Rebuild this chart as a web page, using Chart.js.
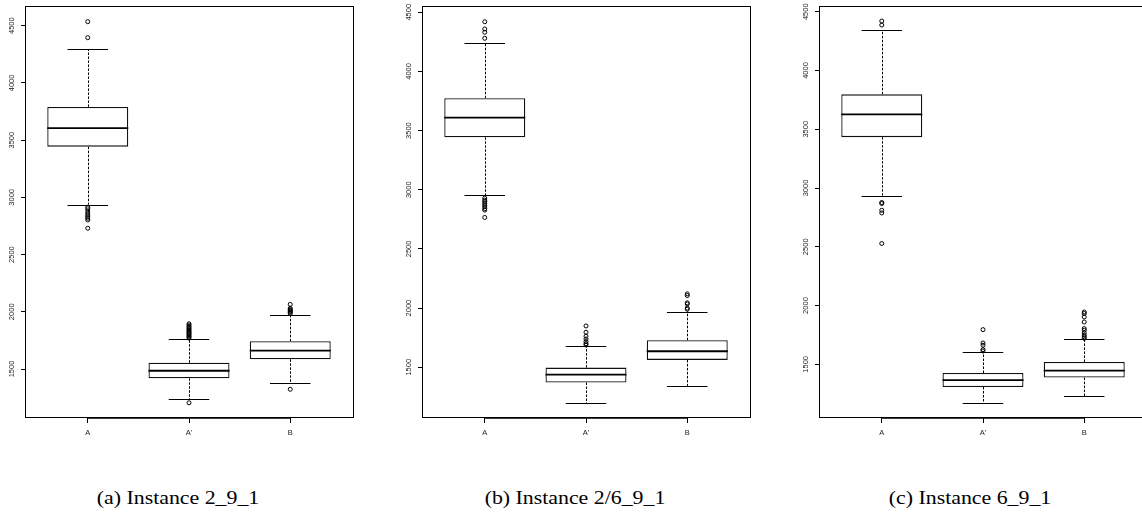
<!DOCTYPE html>
<html><head><meta charset="utf-8">
<script src="https://cdn.jsdelivr.net/npm/chart.js@4.4.0/dist/chart.umd.min.js"></script>
<style>
html,body{margin:0;padding:0;background:#fff;overflow:hidden;width:1142px;height:514px;}
#wrap{position:relative;width:1142px;height:514px;overflow:hidden;background:#fff;}
#wrap canvas{position:absolute;top:0;}
.cap{position:absolute;top:488px;font-family:"Liberation Serif","Times New Roman",serif;font-size:19.5px;line-height:20px;color:#000;white-space:nowrap;transform:translateX(-50%) scaleX(1.12);transform-origin:50% 50%;}
</style></head><body>
<div id="wrap">
<canvas id="c0" width="365" height="450" style="left:0px"></canvas>
<canvas id="c1" width="365" height="450" style="left:397px"></canvas>
<canvas id="c2" width="365" height="450" style="left:794px"></canvas>
<div class="cap" id="t0" style="left:178px"></div>
<div class="cap" id="t1" style="left:575px"></div>
<div class="cap" id="t2" style="left:970px"></div>
</div>
<script>
// ---------- data ----------
const categories = ["A", "A'", "B"];
const captions = ["(a) Instance 2_9_1", "(b) Instance 2/6_9_1", "(c) Instance 6_9_1"];
const yTicks = [1500, 2000, 2500, 3000, 3500, 4000, 4500];
const yMin = [1072, 1071, 1043];
const yMax = [4672, 4553, 4549];

// panel (a) Instance 2_9_1
const aLow  = [2936, 1238, 1375];
const aQ1   = [3443, 1419, 1585];
const aMed  = [3605, 1485, 1660];
const aQ3   = [3790, 1555, 1742];
const aHigh = [4296, 1760, 1972];
const aOut  = [
  [4535, 4395, 2913, 2900, 2880, 2861, 2845, 2830, 2817, 2802, 2730],
  [1205, 1770, 1780, 1790, 1800, 1810, 1820, 1830, 1840, 1850, 1860, 1872, 1885, 1895],
  [1323, 1985, 1995, 2003, 2012, 2020, 2030, 2065]
];

// panel (b) Instance 2/6_9_1
const bLow  = [2952, 1198, 1342];
const bQ1   = [3443, 1371, 1562];
const bMed  = [3610, 1438, 1635];
const bQ3   = [3773, 1497, 1728];
const bHigh = [4240, 1683, 1971];
const bOut  = [
  [4420, 4359, 4331, 4280, 2929, 2912, 2900, 2884, 2870, 2856, 2840, 2828, 2766],
  [1849, 1796, 1762, 1739, 1717, 1700, 1689],
  [2120, 2106, 2044, 2035, 2000, 1990]
];

// panel (c) Instance 6_9_1
const cLow  = [2933, 1170, 1227];
const cQ1   = [3433, 1307, 1387];
const cMed  = [3626, 1366, 1446];
const cQ3   = [3797, 1426, 1520];
const cHigh = [4342, 1608, 1713];
const cOut  = [
  [4421, 4387, 2877, 2868, 2811, 2788, 2528],
  [1795, 1681, 1662, 1625, 1613],
  [1945, 1932, 1903, 1860, 1804, 1790, 1767, 1747, 1733, 1721]
];

// ---------- drawing ----------
const boxExtras = {
  id: 'boxExtras',
  beforeDatasetsDraw(chart) {
    const {ctx, scales: {x, y}} = chart;
    const s = chart.options.plugins.boxExtras.stats;
    ctx.save();
    ctx.strokeStyle = '#000';
    ctx.lineWidth = 1;
    s.low.forEach((lo, i) => {
      const cx = Math.round(x.getPixelForValue(i + 1)) + 0.5;
      ctx.setLineDash([2.5, 1.5]);
      ctx.beginPath();
      ctx.moveTo(cx, y.getPixelForValue(s.q3[i]));
      ctx.lineTo(cx, y.getPixelForValue(s.high[i]));
      ctx.moveTo(cx, y.getPixelForValue(s.q1[i]));
      ctx.lineTo(cx, y.getPixelForValue(lo));
      ctx.stroke();
      ctx.setLineDash([]);
      const xl = x.getPixelForValue(i + 1 - 0.2), xr = x.getPixelForValue(i + 1 + 0.2);
      ctx.beginPath();
      const yh = Math.round(y.getPixelForValue(s.high[i])) + 0.5;
      const yl = Math.round(y.getPixelForValue(lo)) + 0.5;
      ctx.moveTo(xl, yh); ctx.lineTo(xr, yh);
      ctx.moveTo(xl, yl); ctx.lineTo(xr, yl);
      ctx.stroke();
    });
    ctx.restore();
  },
  afterDatasetsDraw(chart) {
    const {ctx, scales: {x, y}, chartArea: a} = chart;
    const s = chart.options.plugins.boxExtras.stats;
    ctx.save();
    ctx.strokeStyle = '#000';
    ctx.lineWidth = 1.8;
    s.med.forEach((m, i) => {
      const xl = x.getPixelForValue(i + 1 - 0.4), xr = x.getPixelForValue(i + 1 + 0.4);
      const ym = y.getPixelForValue(m);
      ctx.beginPath(); ctx.moveTo(xl, ym); ctx.lineTo(xr, ym); ctx.stroke();
    });
    // frame
    ctx.lineWidth = 1;
    ctx.strokeRect(a.left + 0.5, a.top + 0.5, a.right - a.left, a.bottom - a.top - 1);
    // bottom axis segment (first to last tick)
    ctx.lineWidth = 1.6;
    ctx.beginPath();
    ctx.moveTo(x.getPixelForValue(1), a.bottom);
    ctx.lineTo(x.getPixelForValue(categories.length), a.bottom);
    ctx.stroke();
    ctx.restore();
  }
};

function makePanel(k, low, q1, med, q3, high, out) {
  const boxes = categories.map((c, i) => ({x: i + 1, y: [q1[i], q3[i]]}));
  const pts = [];
  out.forEach((arr, i) => arr.forEach(v => pts.push({x: i + 1, y: v})));
  document.getElementById('t' + k).textContent = captions[k];
  new Chart(document.getElementById('c' + k), {
    type: 'bar',
    data: {
      datasets: [
        {
          type: 'bar', data: boxes, backgroundColor: '#fff', borderColor: '#111',
          borderWidth: 1.3, borderSkipped: false, barPercentage: 0.8, categoryPercentage: 1
        },
        {
          type: 'scatter', data: pts, pointRadius: 2, pointBorderWidth: 1,
          pointBackgroundColor: 'rgba(255,255,255,0)', pointBorderColor: '#000', showLine: false
        }
      ]
    },
    options: {
      responsive: false, animation: false, devicePixelRatio: 1,
      layout: {padding: {left: 0, right: 12, top: 6, bottom: 0}},
      plugins: {legend: {display: false}, tooltip: {enabled: false},
        boxExtras: {stats: {low, q1, med, q3, high}}},
      scales: {
        x: {
          type: 'linear', min: 0.38, max: 3.62, offset: false,
          grid: {display: true, drawOnChartArea: false, drawTicks: true, tickLength: 5, color: '#000', offset: false},
          border: {display: false},
          afterBuildTicks: s => { s.ticks = categories.map((c, i) => ({value: i + 1})); },
          afterFit: s => { s.height = 32; s.paddingLeft = 0; s.paddingRight = 0; },
          ticks: {
            autoSkip: false, maxRotation: 0, minRotation: 0, padding: 5,
            color: '#222', font: {family: 'Liberation Sans', size: 7.5},
            callback: v => categories[Math.round(v) - 1]
          }
        },
        y: {
          type: 'linear', min: yMin[k], max: yMax[k],
          grid: {display: true, drawOnChartArea: false, drawTicks: true, tickLength: 4, color: '#000'},
          border: {display: false},
          afterBuildTicks: s => { s.ticks = yTicks.map(v => ({value: v})); },
          afterFit: s => { s.width = 25; s.paddingTop = 0; s.paddingBottom = 0; },
          ticks: {
            autoSkip: false, minRotation: 90, maxRotation: 90, crossAlign: 'center', padding: 1,
            color: '#222', font: {family: 'Liberation Sans', size: 7.5},
            callback: v => String(v)
          }
        }
      }
    },
    plugins: [boxExtras]
  });
}

makePanel(0, aLow, aQ1, aMed, aQ3, aHigh, aOut);
makePanel(1, bLow, bQ1, bMed, bQ3, bHigh, bOut);
makePanel(2, cLow, cQ1, cMed, cQ3, cHigh, cOut);
</script>
</body></html>
